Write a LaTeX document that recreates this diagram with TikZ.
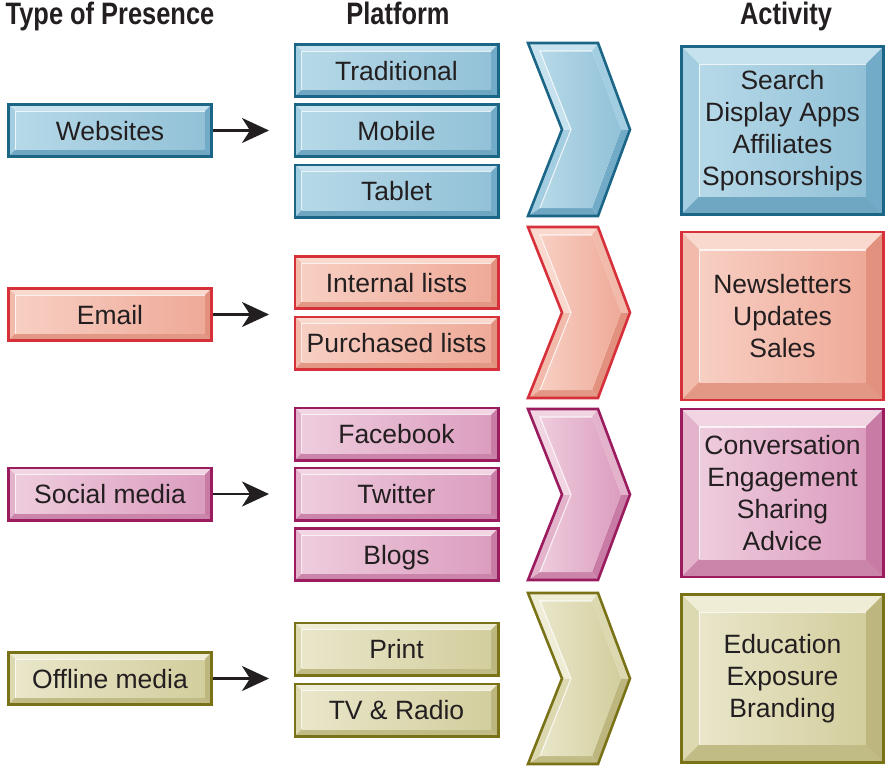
\documentclass[tikz,border=0pt]{standalone}
\usepackage{fontspec}
\setmainfont{Liberation Sans}
\newfontfamily\hdrfamily[FakeStretch=0.82]{Liberation Sans}
\usetikzlibrary{calc,arrows.meta}

% palettes: border, bevel bands, face gradient
\definecolor{blueBorder}{HTML}{1B6687}
\definecolor{blueTop}{HTML}{C6E2EE}
\definecolor{blueLeft}{HTML}{A3CDE0}
\definecolor{blueRight}{HTML}{72ABC7}
\definecolor{blueBottom}{HTML}{6FA7C3}
\definecolor{blueFaceL}{HTML}{B6D9E8}
\definecolor{blueFaceR}{HTML}{92C1D7}

\definecolor{redBorder}{HTML}{D6303A}
\definecolor{redTop}{HTML}{F9D8CE}
\definecolor{redLeft}{HTML}{F1BAAB}
\definecolor{redRight}{HTML}{E2917F}
\definecolor{redBottom}{HTML}{E39886}
\definecolor{redFaceL}{HTML}{F7CFC3}
\definecolor{redFaceR}{HTML}{EFAA98}

\definecolor{pinkBorder}{HTML}{9A1C5E}
\definecolor{pinkTop}{HTML}{F1D5E3}
\definecolor{pinkLeft}{HTML}{E3B3CC}
\definecolor{pinkRight}{HTML}{C87BA4}
\definecolor{pinkBottom}{HTML}{CB84AA}
\definecolor{pinkFaceL}{HTML}{EECCDD}
\definecolor{pinkFaceR}{HTML}{DC9DBF}

\definecolor{oliveBorder}{HTML}{7A7217}
\definecolor{oliveTop}{HTML}{EFEDD6}
\definecolor{oliveLeft}{HTML}{DCD8B0}
\definecolor{oliveRight}{HTML}{BDB67F}
\definecolor{oliveBottom}{HTML}{C1BB86}
\definecolor{oliveFaceL}{HTML}{E9E6CA}
\definecolor{oliveFaceR}{HTML}{D3CE9D}

\definecolor{inkc}{HTML}{231F20}

\newcommand\bodyfont{\fontsize{26.5}{32}\selectfont}
\newcommand\headfont{\hdrfamily\bfseries\fontsize{31}{36}\selectfont}

\tikzset{
  bevbox/.style 2 args={
    rectangle, draw=#1Border, line width=2.6pt, fill=#1FaceR,
    inner sep=0pt, text=inkc, align=center, font=\bodyfont,
    path picture={
      \coordinate (bvnw) at (path picture bounding box.north west);
      \coordinate (bvne) at (path picture bounding box.north east);
      \coordinate (bvsw) at (path picture bounding box.south west);
      \coordinate (bvse) at (path picture bounding box.south east);
      \coordinate (bvinw) at ($(bvnw)+(#2,-#2)$);
      \coordinate (bvine) at ($(bvne)+(-#2,-#2)$);
      \coordinate (bvisw) at ($(bvsw)+(#2,#2)$);
      \coordinate (bvise) at ($(bvse)+(-#2,#2)$);
      \fill[#1Top] (bvnw) -- (bvne) -- (bvine) -- (bvinw) -- cycle;
      \fill[#1Left] (bvnw) -- (bvinw) -- (bvisw) -- (bvsw) -- cycle;
      \fill[#1Bottom] (bvsw) -- (bvisw) -- (bvise) -- (bvse) -- cycle;
      \fill[#1Right] (bvne) -- (bvse) -- (bvise) -- (bvine) -- cycle;
      \shade[left color=#1FaceL, right color=#1FaceR] (bvinw) rectangle (bvise);
      \draw[white, opacity=0.75, line width=1.1pt] (bvisw) -- (bvinw) -- (bvine);
    }},
  smallbox/.style={minimum width=203.4pt, minimum height=52.4pt,
    text height=19pt, text depth=0pt},
  actbox/.style={minimum width=202.4pt, minimum height=168pt},
  header/.style={font=\headfont, text=inkc, anchor=base, inner sep=0pt},
  feed/.style={draw=inkc, line width=2.4pt,
    -{Stealth[length=27pt, width=25pt, inset=8pt]}},
}

% bevelled chevron between the platform column and the activity column
% #1 name, #2 top (px), #3 bottom (px), #4 palette
\newcommand\chevronshape[4]{%
  \pgfmathsetmacro\chvT{-(#2)}%
  \pgfmathsetmacro\chvB{-(#3)}%
  \pgfmathsetmacro\chvM{-((#2)+(#3))/2}%
  \pgfmathsetmacro\chvTi{\chvT-8}%
  \pgfmathsetmacro\chvBi{\chvB+8}%
  \coordinate (#1-A) at (528,\chvT);
  \coordinate (#1-B) at (598,\chvT);
  \coordinate (#1-C) at (630,\chvM);
  \coordinate (#1-D) at (598,\chvB);
  \coordinate (#1-E) at (528,\chvB);
  \coordinate (#1-F) at (562,\chvM);
  \coordinate (#1-a) at (540,\chvTi);
  \coordinate (#1-b) at (592,\chvTi);
  \coordinate (#1-c) at (621,\chvM);
  \coordinate (#1-d) at (592,\chvBi);
  \coordinate (#1-e) at (540,\chvBi);
  \coordinate (#1-f) at (571,\chvM);
  \fill[#4Top] (#1-A) -- (#1-B) -- (#1-b) -- (#1-a) -- cycle;
  \fill[#4Left] (#1-B) -- (#1-C) -- (#1-c) -- (#1-b) -- cycle;
  \fill[#4Right] (#1-C) -- (#1-D) -- (#1-d) -- (#1-c) -- cycle;
  \fill[#4Bottom] (#1-D) -- (#1-E) -- (#1-e) -- (#1-d) -- cycle;
  \fill[#4Left] (#1-E) -- (#1-F) -- (#1-f) -- (#1-e) -- cycle;
  \fill[#4Top] (#1-F) -- (#1-A) -- (#1-a) -- (#1-f) -- cycle;
  \shade[left color=#4FaceL, right color=#4FaceR]
    (#1-a) -- (#1-b) -- (#1-c) -- (#1-d) -- (#1-e) -- (#1-f) -- cycle;
  \draw[white, opacity=0.75, line width=1.1pt]
    (#1-e) -- (#1-f) -- (#1-a) -- (#1-b);
  \draw[#4Border, line width=2.6pt, line join=miter]
    (#1-A) -- (#1-B) -- (#1-C) -- (#1-D) -- (#1-E) -- (#1-F) -- cycle;
}

\begin{document}
\begin{tikzpicture}[x=1pt, y=1pt]
\useasboundingbox (0,0) rectangle (885,-766);

% column headings
\node[header] (hType) at (110,-24) {Type of Presence};
\node[header] (hPlat) at (398,-24) {Platform};
\node[header] (hAct)  at (786,-24) {Activity};

% type of presence
\node[bevbox={blue}{7pt}, smallbox]  (web)     at (110,-130.5) {Websites};
\node[bevbox={red}{7pt}, smallbox]   (email)   at (110,-314.5) {Email};
\node[bevbox={pink}{7pt}, smallbox]  (social)  at (110,-494)   {Social media};
\node[bevbox={olive}{7pt}, smallbox] (offline) at (110,-678.5) {Offline media};

% platforms
\node[bevbox={blue}{7pt}, smallbox]  (trad)     at (396.5,-70.5) {Traditional};
\node[bevbox={blue}{7pt}, smallbox]  (mobile)   at (396.5,-130.5) {Mobile};
\node[bevbox={blue}{7pt}, smallbox]  (tablet)   at (396.5,-191)  {Tablet};
\node[bevbox={red}{7pt}, smallbox]   (internal) at (396.5,-282.5) {Internal lists};
\node[bevbox={red}{7pt}, smallbox]   (purch)    at (396.5,-343)  {Purchased lists};
\node[bevbox={pink}{7pt}, smallbox]  (facebook) at (396.5,-434)  {Facebook};
\node[bevbox={pink}{7pt}, smallbox]  (twitter)  at (396.5,-494)  {Twitter};
\node[bevbox={pink}{7pt}, smallbox]  (blogs)    at (396.5,-554.5) {Blogs};
\node[bevbox={olive}{7pt}, smallbox] (print)    at (396.5,-649)  {Print};
\node[bevbox={olive}{7pt}, smallbox] (tvradio)  at (396.5,-710)  {TV \& Radio};

% arrows from each type to its platforms
\coordinate (webEnd)     at (269,-130.5);
\coordinate (emailEnd)   at (269,-314.5);
\coordinate (socialEnd)  at (269,-494);
\coordinate (offlineEnd) at (269,-678.5);
\draw[feed] (web) -- (webEnd);
\draw[feed] (email) -- (emailEnd);
\draw[feed] (social) -- (socialEnd);
\draw[feed] (offline) -- (offlineEnd);

% chevrons
\chevronshape{chvWeb}{43}{216}{blue}
\chevronshape{chvEmail}{227}{398}{red}
\chevronshape{chvSocial}{409}{580}{pink}
\chevronshape{chvOffline}{593}{764}{olive}

% activities
\node[bevbox={blue}{18pt}, actbox]  (actWeb)     at (782.5,-130.5)
  {Search\\Display Apps\\Affiliates\\Sponsorships};
\node[bevbox={red}{18pt}, actbox]   (actEmail)   at (782.5,-316)
  {Newsletters\\Updates\\Sales};
\node[bevbox={pink}{18pt}, actbox]  (actSocial)  at (782.5,-493)
  {Conversation\\Engagement\\Sharing\\Advice};
\node[bevbox={olive}{18pt}, actbox] (actOffline) at (782.5,-678.5)
  {Education\\Exposure\\Branding};
\end{tikzpicture}
\end{document}
